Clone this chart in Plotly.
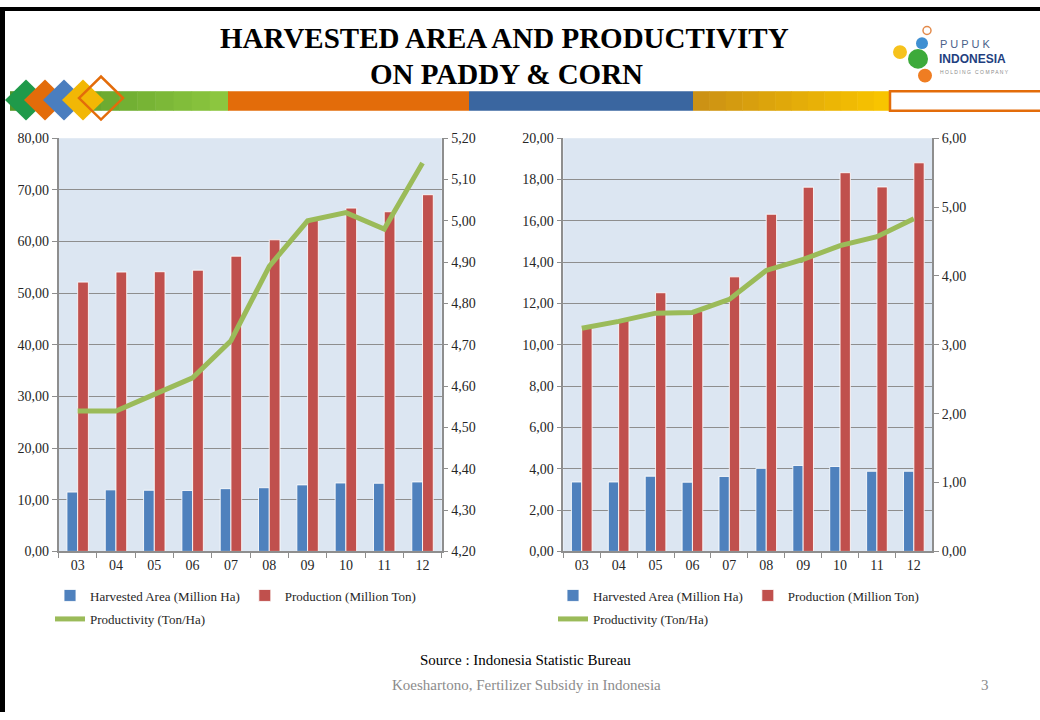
import plotly.graph_objects as go

W, H = 1040, 720

years = ["03", "04", "05", "06", "07", "08", "09", "10", "11", "12"]

# paddy (left chart)
paddy_area = [11.49, 11.92, 11.84, 11.79, 12.15, 12.33, 12.88, 13.25, 13.20, 13.45]
paddy_prod = [52.14, 54.09, 54.15, 54.45, 57.16, 60.33, 64.40, 66.47, 65.76, 69.06]
paddy_yield = [4.54, 4.54, 4.58, 4.62, 4.71, 4.89, 5.00, 5.02, 4.98, 5.14]

# corn (right chart)
corn_area = [3.36, 3.36, 3.64, 3.35, 3.63, 4.02, 4.16, 4.11, 3.88, 3.88]
corn_prod = [10.89, 11.23, 12.52, 11.61, 13.29, 16.32, 17.63, 18.33, 17.64, 18.81]
corn_yield = [3.24, 3.34, 3.46, 3.47, 3.66, 4.08, 4.24, 4.44, 4.57, 4.83]

BLUE = "#4f81bd"
RED = "#c0504d"
GREEN = "#9bbb59"
GRID = "#8e8e8e"
TXT = "#262626"
SERIF = "Liberation Serif"


def px(x):
    return x / W


def py(y):
    return 1 - y / H


fig = go.Figure()

bar_edge = dict(color="rgba(255,255,255,0.85)", width=1)

# left chart
fig.add_trace(go.Bar(x=years, y=paddy_area, name="Harvested Area (Million Ha)",
                     marker=dict(color=BLUE, line=bar_edge),
                     xaxis="x", yaxis="y", legend="legend"))
fig.add_trace(go.Bar(x=years, y=paddy_prod, name="Production (Million Ton)",
                     marker=dict(color=RED, line=bar_edge),
                     xaxis="x", yaxis="y", legend="legend"))
fig.add_trace(go.Scatter(x=years, y=paddy_yield, name="Productivity (Ton/Ha)", mode="lines",
                         line=dict(color=GREEN, width=5),
                         xaxis="x", yaxis="y2", legend="legend2"))

# right chart
fig.add_trace(go.Bar(x=years, y=corn_area, name="Harvested Area (Million Ha)",
                     marker=dict(color=BLUE, line=bar_edge),
                     xaxis="x2", yaxis="y3", legend="legend3"))
fig.add_trace(go.Bar(x=years, y=corn_prod, name="Production (Million Ton)",
                     marker=dict(color=RED, line=bar_edge),
                     xaxis="x2", yaxis="y3", legend="legend3"))
fig.add_trace(go.Scatter(x=years, y=corn_yield, name="Productivity (Ton/Ha)", mode="lines",
                         line=dict(color=GREEN, width=5),
                         xaxis="x2", yaxis="y4", legend="legend4"))

tickfont = dict(family=SERIF, size=14, color=TXT)

xcommon = dict(type="category", tickson="boundaries", ticks="outside", ticklen=5,
               tickcolor=GRID, showline=True, linecolor=GRID, linewidth=1.5,
               showgrid=False, tickfont=tickfont)
ycommon = dict(tickformat=".2f", ticks="outside", ticklen=5, tickcolor=GRID,
               showline=True, linecolor=GRID, linewidth=1.5, zeroline=False,
               tickfont=tickfont)

dom_y = [py(556), py(134)]

legend_base = dict(orientation="h", xanchor="left", yanchor="middle",
                   font=dict(family=SERIF, size=13, color=TXT),
                   bgcolor="rgba(0,0,0,0)", itemwidth=30, tracegroupgap=0)

fig.update_layout(
    width=W, height=H,
    margin=dict(l=0, r=0, t=0, b=0),
    paper_bgcolor="white",
    plot_bgcolor="#dce6f2",
    separators=",.",
    barmode="group",
    bargap=0.44,
    bargroupgap=0.0,
    xaxis=dict(domain=[px(58.5), px(441.7)], anchor="y", **xcommon),
    yaxis=dict(domain=dom_y, anchor="x", range=[0, 80], dtick=10,
               showgrid=True, gridcolor=GRID, gridwidth=1.3, **ycommon),
    yaxis2=dict(overlaying="y", side="right", anchor="x", range=[4.2, 5.2], dtick=0.1,
                showgrid=False, **ycommon),
    xaxis2=dict(domain=[px(563.3), px(932.3)], anchor="y3", **xcommon),
    yaxis3=dict(domain=dom_y, anchor="x2", range=[0, 20], dtick=2,
                showgrid=True, gridcolor=GRID, gridwidth=1.3, **ycommon),
    yaxis4=dict(overlaying="y3", side="right", anchor="x2", range=[0, 6], dtick=1,
                showgrid=False, **ycommon),
    legend=dict(x=px(50), y=py(601), **legend_base),
    legend2=dict(x=px(50), y=py(625), **legend_base),
    legend3=dict(x=px(553), y=py(601), **legend_base),
    legend4=dict(x=px(553), y=py(625), **legend_base),
)

shapes = []


def rect(x0, y0, x1, y1, color, line=None):
    shapes.append(dict(type="rect", xref="paper", yref="paper",
                       x0=px(x0), x1=px(x1), y0=py(y1), y1=py(y0),
                       fillcolor=color, line=line or dict(width=0)))


def diamond(cx, cy, r, fill, outline=None):
    path = (f"M {px(cx - r)},{py(cy)} L {px(cx)},{py(cy - r)} "
            f"L {px(cx + r)},{py(cy)} L {px(cx)},{py(cy + r)} Z")
    shapes.append(dict(type="path", xref="paper", yref="paper", path=path,
                       fillcolor=fill,
                       line=dict(color=outline, width=2.5) if outline else dict(width=0)))


def circle(cx, cy, r, fill, outline=None):
    shapes.append(dict(type="circle", xref="paper", yref="paper",
                       x0=px(cx - r), x1=px(cx + r), y0=py(cy + r), y1=py(cy - r),
                       fillcolor=fill,
                       line=dict(color=outline, width=1.5) if outline else dict(width=0)))


# slide frame
rect(0, 0, 5, 720, "black")
rect(0, 0, 1040, 4, "black")

# header colour band (green and gold parts drawn as simple gradients)
green_a, green_b = (84, 150, 38), (140, 198, 63)
steps = 12
for i in range(steps):
    t = i / (steps - 1)
    c = tuple(int(a + (b - a) * t) for a, b in zip(green_a, green_b))
    x0 = 10 + (228 - 10) * i / steps
    x1 = 10 + (228 - 10) * (i + 1) / steps + 0.5
    rect(x0, 86, x1, 106, f"rgb{c}")
rect(228, 86, 469, 106, "#e36c0a")
rect(469, 86, 693, 106, "#3a66a0")
gold_a, gold_b = (204, 146, 20), (248, 196, 0)
for i in range(steps):
    t = i / (steps - 1)
    c = tuple(int(a + (b - a) * t) for a, b in zip(gold_a, gold_b))
    x0 = 693 + (890 - 693) * i / steps
    x1 = 693 + (890 - 693) * (i + 1) / steps + 0.5
    rect(x0, 86, x1, 106, f"rgb{c}")
rect(890, 86, 1042, 106, "white", line=dict(color="#e36c0a", width=2.5))

# diamonds
diamond(26, 95, 21, "#1f9a4a")
diamond(45, 95, 21, "#e36c0a")
diamond(64, 95, 21, "#4a7ebf")
diamond(83, 95, 21, "#f2b705")
diamond(101, 93, 22, "rgba(0,0,0,0)", outline="#e36c0a")

# logo
circle(927, 24, 4, "white", outline="#e38a4a")
circle(922, 37, 6, "#3f8fd2")
circle(900, 46, 7, "#f6c21c")
circle(918, 53, 10, "#3daa3a")
circle(925, 70, 7, "#ef7d22")

fig.update_layout(shapes=shapes)

ann = [
    dict(text="<b>HARVESTED AREA AND PRODUCTIVITY</b>", x=px(504), y=py(32),
         font=dict(family=SERIF, size=29, color="black")),
    dict(text="<b>ON PADDY &amp; CORN</b>", x=px(506), y=py(68),
         font=dict(family=SERIF, size=29, color="black")),
    dict(text="P U P U K", x=px(938), y=py(38), xanchor="left",
         font=dict(family="Liberation Sans", size=11, color="#4a5f8a")),
    dict(text="<b>INDONESIA</b>", x=px(937), y=py(53), xanchor="left",
         font=dict(family="Liberation Sans", size=12, color="#1f3f7f")),
    dict(text="H O L D I N G   C O M P A N Y", x=px(938), y=py(66), xanchor="left",
         font=dict(family="Liberation Sans", size=5, color="#8a8a8a")),
    dict(text="Source : Indonesia Statistic Bureau", x=px(525), y=py(667),
         font=dict(family=SERIF, size=15, color="black")),
    dict(text="Koeshartono, Fertilizer Subsidy in Indonesia", x=px(526), y=py(692),
         font=dict(family=SERIF, size=15, color="#8c8c8c")),
    dict(text="3", x=px(985), y=py(692),
         font=dict(family=SERIF, size=15, color="#8c8c8c")),
]
for a in ann:
    a.update(xref="paper", yref="paper", showarrow=False)
    a.setdefault("xanchor", "center")
    a.setdefault("yanchor", "middle")
fig.update_layout(annotations=ann)

# pin the figure to the top-left corner of the viewport
pin = ("document.documentElement.style.margin='0';"
       "document.documentElement.style.overflow='hidden';"
       "document.body.style.margin='0';"
       "document.body.style.overflow='hidden';"
       "var d=document.getElementById('{plot_id}');"
       "d.style.position='fixed';d.style.left='0px';d.style.top='0px';")

fig.write_html("out.html", post_script=pin, config={"displayModeBar": False})
